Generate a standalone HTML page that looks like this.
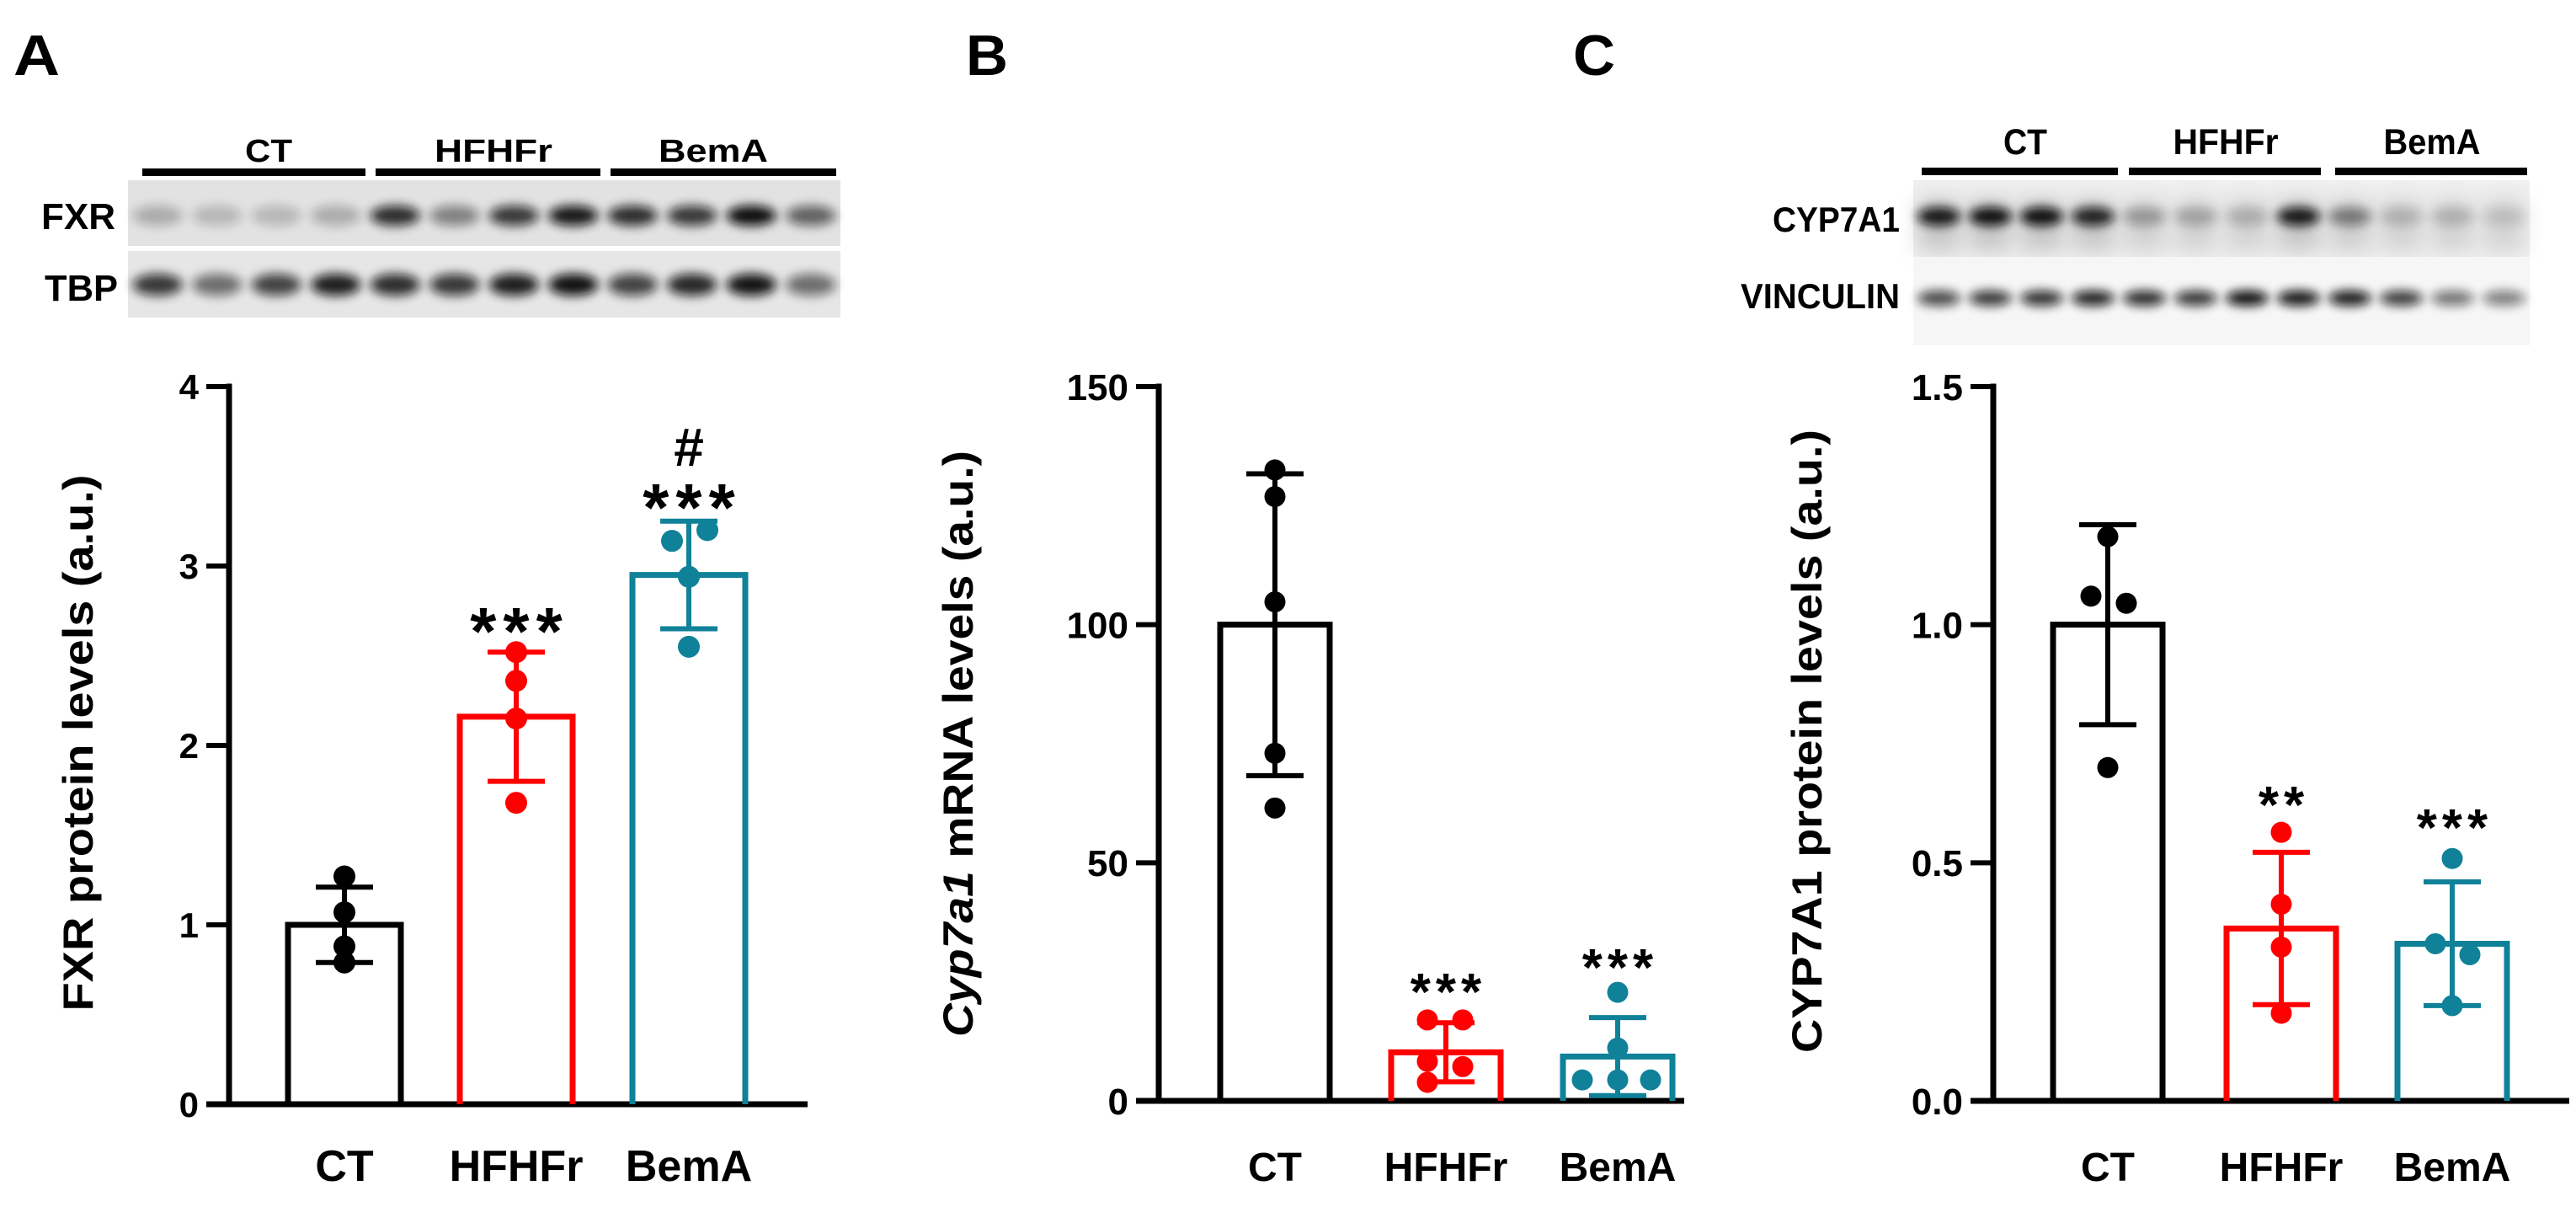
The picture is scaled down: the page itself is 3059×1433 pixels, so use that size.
<!DOCTYPE html>
<html><head><meta charset="utf-8"><title>FXR / CYP7A1 figure</title>
<style>
html,body{margin:0;padding:0;background:#fff;}
svg{display:block;}
text{font-family:"Liberation Sans",Arial,sans-serif;font-weight:bold;fill:#000;}
</style></head>
<body>
<svg id="fig" width="3059" height="1433" viewBox="0 0 3059 1433" xmlns="http://www.w3.org/2000/svg">
<defs>
<filter id="blur6" x="-50%" y="-100%" width="200%" height="300%"><feGaussianBlur stdDeviation="6"/></filter>
<filter id="blur10" x="-50%" y="-100%" width="200%" height="300%"><feGaussianBlur stdDeviation="12"/></filter>
</defs>
</svg>
<script>
// ---------- data ----------
const categories = ["CT", "HFHFr", "BemA"];
const ticksA = [0, 1, 2, 3, 4];
const tickLabelsA = ["0", "1", "2", "3", "4"];
const meansA = [1.0, 2.16, 2.95];
const sdA = [0.21, 0.36, 0.30];
const pointsA = [[1.27, 1.07, 0.88, 0.79], [2.52, 2.36, 2.15, 1.68], [3.20, 3.14, 2.94, 2.55]];
const starsA = ["", "***", "***"];
const hashA = ["", "", "#"];

const ticksB = [0, 50, 100, 150];
const tickLabelsB = ["0", "50", "100", "150"];
const meansB = [100, 10.2, 9.3];
const sdB = [31.7, 6.2, 8.2];
const pointsB = [[132.5, 126.9, 104.8, 73, 61.5], [17, 17, 8.3, 7.2, 3.9], [22.8, 11.1, 4.4, 4.4, 4.4]];
const starsB = ["", "***", "***"];

const ticksC = [0, 0.5, 1.0, 1.5];
const tickLabelsC = ["0.0", "0.5", "1.0", "1.5"];
const meansC = [1.0, 0.362, 0.33];
const sdC = [0.21, 0.16, 0.13];
const pointsC = [[1.185, 1.06, 1.045, 0.70], [0.564, 0.413, 0.323, 0.184], [0.509, 0.33, 0.307, 0.20]];
const starsC = ["", "**", "***"];

// blot band intensities (0..1)
const fxrBands = [0.25, 0.2, 0.2, 0.25, 0.85, 0.45, 0.8, 0.95, 0.85, 0.8, 1.0, 0.6];
const tbpBands = [0.8, 0.55, 0.75, 0.92, 0.85, 0.8, 0.92, 0.98, 0.75, 0.88, 0.97, 0.55];
const cypBands = [0.95, 1.0, 1.0, 0.9, 0.3, 0.25, 0.2, 0.95, 0.45, 0.18, 0.18, 0.12];
const vinBands = [0.75, 0.82, 0.85, 0.92, 0.88, 0.82, 1.0, 0.97, 0.95, 0.8, 0.55, 0.5];

// ---------- styles ----------
const colors = ["#000000", "#ff0000", "#0f8198"];
const NS = "http://www.w3.org/2000/svg";
const svg = document.getElementById("fig");
function mk(tag, attrs, parent) {
  const e = document.createElementNS(NS, tag);
  for (const k in attrs) e.setAttribute(k, attrs[k]);
  (parent || svg).appendChild(e);
  return e;
}

// ---------- panel letters ----------
[["A", 16, 55], ["B", 1147, 50], ["C", 1868, 50]].forEach(function (p) {
  const t = mk("text", {x: p[1], y: 89, "font-size": 68, textLength: p[2], lengthAdjust: "spacingAndGlyphs"});
  t.textContent = p[0];
  
  
});

// ---------- blots ----------
function blot(cfg) {
  const g = mk("g", {});
  
  
  cfg.groups.forEach(function (gr, i) {
    const r = mk("rect", {x: gr[0], y: cfg.barY, width: gr[1] - gr[0], height: 9, fill: "#000"}, g);
    
    
    const t = mk("text", {x: gr[2], y: cfg.labelY, "font-size": cfg.labelFs, "text-anchor": "middle", textLength: gr[3], lengthAdjust: "spacingAndGlyphs"}, g);
    t.textContent = categories[i];
    
    
  });
  const lw = (cfg.x1 - cfg.x0) / 12;
  cfg.rows.forEach(function (row) {
    const bg = mk("rect", {x: cfg.x0, y: row.y0, width: cfg.x1 - cfg.x0, height: row.y1 - row.y0, fill: row.bg}, g);
    
    
    if (row.smear) {
      for (let i = 0; i < 12; i++) {
        mk("rect", {x: cfg.x0 + i * lw + 6, y: row.smear[0], width: lw - 12, height: row.smear[1] - row.smear[0], fill: "#888", opacity: 0.25 + 0.15 * row.vals[i], filter: "url(#blur10)"}, g);
      }
    }
    for (let i = 0; i < 12; i++) {
      const b = mk("ellipse", {cx: cfg.x0 + (i + 0.5) * lw, cy: row.cy, rx: lw * 0.42, ry: row.h, fill: "#080808", opacity: row.vals[i], filter: "url(#blur6)"}, g);
      
      
    }
    const t = mk("text", {x: row.lx, y: row.ly, "font-size": row.lfs, textLength: row.lw, lengthAdjust: "spacingAndGlyphs"}, g);
    t.textContent = row.label;
    
    
  });
}
blot({
  name: "blot-fxr-tbp", x0: 152, x1: 998, barY: 200, labelY: 192, labelFs: 38,
  groups: [[169, 434, 319, 56], [446, 713, 586, 140], [725, 993, 847, 130]],
  rows: [
    {name: "fxr", label: "FXR", y0: 214, y1: 292, bg: "#e2e2e2", cy: 256, h: 12, vals: fxrBands, lx: 49, ly: 272, lfs: 44, lw: 88},
    {name: "tbp", label: "TBP", y0: 298, y1: 377, bg: "#e6e6e6", cy: 338, h: 13, vals: tbpBands, lx: 53, ly: 357, lfs: 44, lw: 87}
  ]
});
blot({
  name: "blot-cyp7a1-vinculin", x0: 2272, x1: 3004, barY: 199, labelY: 183, labelFs: 43,
  groups: [[2282, 2515, 2405, 52], [2528, 2756, 2643, 125], [2773, 3001, 2888, 115]],
  rows: [
    {name: "cyp7a1", label: "CYP7A1", y0: 214, y1: 305, bg: "#f0f0f0", cy: 257, h: 11, vals: cypBands, smear: [236, 298], lx: 2105, ly: 275, lfs: 42, lw: 151},
    {name: "vinculin", label: "VINCULIN", y0: 305, y1: 410, bg: "#f6f6f6", cy: 354, h: 9, vals: vinBands, lx: 2067, ly: 366, lfs: 42, lw: 189}
  ]
});

// ---------- bar charts ----------
function chart(cfg) {
  const g = mk("g", {});
  
  
  const yScale = function (v) { return cfg.y0 - (v / cfg.vmax) * (cfg.y0 - cfg.yTop); };
  const ya = mk("line", {x1: cfg.x0, y1: yScale(cfg.vmax) - 3.5, x2: cfg.x0, y2: cfg.y0, stroke: "#000", "stroke-width": 7}, g);
  
  
  cfg.ticks.forEach(function (tv, i) {
    const y = yScale(tv);
    const tk = mk("line", {x1: cfg.x0 - 27, y1: y, x2: cfg.x0, y2: y, stroke: "#000", "stroke-width": 6}, g);
    
    
    const tl = mk("text", {x: cfg.x0 - 36, y: y + cfg.tickFs * 0.36, "font-size": cfg.tickFs, "text-anchor": "end"}, g);
    tl.textContent = cfg.tickLabels[i];
    
    
  });
  const xa = mk("line", {x1: cfg.x0 - 27, y1: cfg.y0, x2: cfg.xEnd, y2: cfg.y0, stroke: "#000", "stroke-width": 7}, g);
  
  
  const tt = mk("text", {x: 0, y: 0, "font-size": 50, "text-anchor": "middle", textLength: cfg.titleLen, lengthAdjust: "spacingAndGlyphs", transform: "translate(" + (cfg.titleX + 18) + "," + cfg.titleY + ") rotate(-90)"}, g);
  cfg.title.forEach(function (part) {
    const s = mk("tspan", part[1] ? {"font-style": "italic"} : {}, tt);
    s.textContent = part[0];
  });
  
  
  categories.forEach(function (c, i) {
    const cx = cfg.centers[i];
    const col = colors[i];
    const top = yScale(cfg.means[i]);
    const bar = mk("path", {d: "M" + (cx - cfg.barW / 2) + "," + cfg.y0 + " V" + top + " H" + (cx + cfg.barW / 2) + " V" + cfg.y0, fill: "none", stroke: col, "stroke-width": 7}, g);
    
    
    const hi = yScale(cfg.means[i] + cfg.sd[i]);
    const lo = yScale(Math.max(0, cfg.means[i] - cfg.sd[i]));
    const eb = mk("path", {d: "M" + cx + "," + hi + " V" + lo + " M" + (cx - 34) + "," + hi + " H" + (cx + 34) + " M" + (cx - 34) + "," + lo + " H" + (cx + 34), fill: "none", stroke: col, "stroke-width": 6}, g);
    
    
    cfg.points[i].forEach(function (v, j) {
      const dx = (cfg.jitter[i] && cfg.jitter[i][j]) || 0;
      const pt = mk("circle", {cx: cx + dx, cy: yScale(v), r: cfg.r, fill: col}, g);
      
      
    });
    const xl = mk("text", {x: cx, y: 1402, "font-size": cfg.xFs, "text-anchor": "middle"}, g);
    xl.textContent = c;
    
    
    if (cfg.stars[i]) {
      const st = mk("text", {x: cx + cfg.starLs / 2, y: cfg.starY[i] + cfg.starFs * 0.55, "font-size": cfg.starFs, "text-anchor": "middle", "letter-spacing": cfg.starLs}, g);
      st.textContent = cfg.stars[i];
      
      
    }
    if (cfg.hash && cfg.hash[i]) {
      const h = mk("text", {x: cx, y: cfg.hashY + 24, "font-size": 64, "text-anchor": "middle"}, g);
      h.textContent = cfg.hash[i];
      
      
    }
  });
}

chart({
  name: "chart-a-fxr", x0: 272, y0: 1311, yTop: 459, vmax: 4, xEnd: 959,
  ticks: ticksA, tickLabels: tickLabelsA, tickFs: 42,
  centers: [409, 613, 818], barW: 134, r: 13,
  means: meansA, sd: sdA, points: pointsA,
  jitter: [[0, 0, 0, 0], [0, 0, 0, 0], [22, -20, 0, 0]],
  stars: starsA, starY: [0, 733, 586], starFs: 80, starLs: 8,
  hash: hashA, hashY: 529, xFs: 52,
  title: [["FXR protein levels (a.u.)", false]], titleX: 92, titleY: 882, titleLen: 637
});
chart({
  name: "chart-b-cyp7a1-mrna", x0: 1376, y0: 1307, yTop: 459, vmax: 150, xEnd: 2000,
  ticks: ticksB, tickLabels: tickLabelsB, tickFs: 44,
  centers: [1514, 1717, 1921], barW: 130, r: 12.5,
  means: meansB, sd: sdB, points: pointsB,
  jitter: [[0, 0, 0, 0, 0], [-22, 20, -22, 20, -22], [0, 0, 0, -42, 39]],
  stars: starsB, starY: [0, 1165, 1136], starFs: 62, starLs: 6,
  xFs: 48,
  title: [["Cyp7a1", true], [" mRNA levels (a.u.)", false]], titleX: 1137, titleY: 883, titleLen: 696
});
chart({
  name: "chart-c-cyp7a1-protein", x0: 2367, y0: 1307, yTop: 459, vmax: 1.5, xEnd: 3051,
  ticks: ticksC, tickLabels: tickLabelsC, tickFs: 44,
  centers: [2503, 2709, 2912], barW: 130, r: 12.5,
  means: meansC, sd: sdC, points: pointsC,
  jitter: [[0, -20, 22, 0], [0, 0, 0, 0], [0, -20, 21, 0]],
  stars: starsC, starY: [0, 943, 970], starFs: 62, starLs: 6,
  xFs: 48,
  title: [["CYP7A1 protein levels (a.u.)", false]], titleX: 2145, titleY: 880, titleLen: 740
});
</script>
</body></html>
